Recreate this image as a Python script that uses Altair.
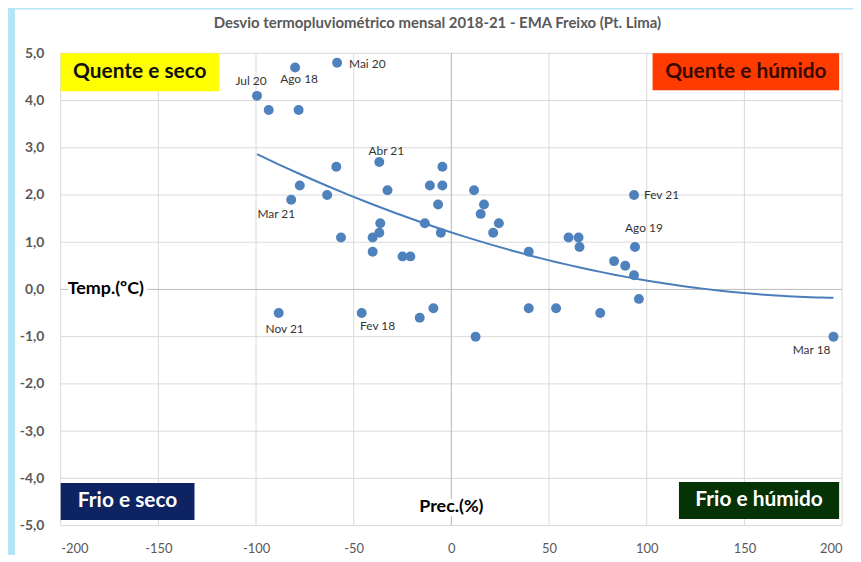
import altair as alt
import pandas as pd

FONT = "Lato"

# ---- data ----
prec = [-99.5, -93.5, -80, -78.2, -58.5, -36.9, -58.9, -77.6, -82, -63.6,
        -32.7, -11, -4.6, -4.6, -6.8, -56.5, -36.4, -36.9, -40.3, -40.3,
        -13.6, -5.4, -25, -21, -88.4, -45.9, -16.2, -9.2, 12.4, 11.6,
        16.7, 15, 24.3, 21.4, 39.6, 39.6, 53.6, 60, 65.1, 65.6,
        83.3, 89, 93.5, 94, 93.5, 96, 76.2, 195.6]
temp = [4.1, 3.8, 4.7, 3.8, 4.8, 2.7, 2.6, 2.2, 1.9, 2.0,
        2.1, 2.2, 2.2, 2.6, 1.8, 1.1, 1.4, 1.2, 1.1, 0.8,
        1.4, 1.2, 0.7, 0.7, -0.5, -0.5, -0.6, -0.4, -1.0, 2.1,
        1.8, 1.6, 1.4, 1.2, 0.8, -0.4, -0.4, 1.1, 1.1, 0.9,
        0.6, 0.5, 0.3, 0.9, 2.0, -0.2, -0.5, -1.0]
labels = ["Jul 20", "", "Ago 18", "", "Mai 20", "Abr 21", "", "", "Mar 21", "",
          "", "", "", "", "", "", "", "", "", "",
          "", "", "", "", "Nov 21", "Fev 18", "", "", "", "",
          "", "", "", "", "", "", "", "", "", "",
          "", "", "", "Ago 19", "Fev 21", "", "", "Mar 18"]

x_ticks = [-200, -150, -100, -50, 0, 50, 100, 150, 200]
y_ticks = [-5, -4, -3, -2, -1, 0, 1, 2, 3, 4, 5]

title_text = "Desvio termopluviométrico mensal 2018-21 - EMA Freixo (Pt. Lima)"
quad_names = ["Quente e seco", "Quente e húmido", "Frio e seco", "Frio e húmido"]
quad_x0 = [-200, 103, -200, 116.5]
quad_x1 = [-119, 198.5, -131.5, 198.5]
quad_y0 = [4.2, 4.22, -4.88, -4.86]
quad_y1 = [5.0, 5.0, -4.1, -4.08]

# ---- styles ----
quad_fill = ["#ffff00", "#ff3b00", "#0e2362", "#063306"]
quad_text = ["#111111", "#3a0800", "#ffffff", "#ffffff"]
label_place = {
    "Jul 20": ("center", -6, -15),
    "Ago 18": ("center", 4, 12),
    "Mai 20": ("left", 12, 1),
    "Abr 21": ("center", 7, -11),
    "Mar 21": ("center", -15, 14),
    "Nov 21": ("center", 6, 16),
    "Fev 18": ("center", 16, 13),
    "Fev 21": ("left", 10, 0),
    "Ago 19": ("center", 9, -19),
    "Mar 18": ("center", -22, 13),
}

W, H = 786, 475
PAD = {"left": 53, "top": 44, "right": 11, "bottom": 28}

df = pd.DataFrame({"prec": prec, "temp": temp, "label": labels})
quads = pd.DataFrame({"name": quad_names, "x0": quad_x0, "x1": quad_x1,
                      "y0": quad_y0, "y1": quad_y1,
                      "fill": quad_fill, "tcol": quad_text})

xscale = alt.Scale(domain=[-200, 200], nice=False, zero=False)
yscale = alt.Scale(domain=[-5, 5], nice=False, zero=False)

x_axis = alt.Axis(values=x_ticks, title=None, grid=False, domain=False, ticks=False,
                  labelFont=FONT, labelFontSize=13, labelColor="#595959",
                  labelPadding=17, zindex=1,
                  labelExpr="replace(format(datum.value, 'd'), '\u2212', '-')")
y_axis = alt.Axis(values=y_ticks, title=None, grid=False, domain=False, ticks=False,
                  labelFont=FONT, labelFontSize=14, labelFontWeight="bold",
                  labelColor="#595959", labelPadding=17, zindex=1,
                  labelExpr="replace(replace(format(datum.value, '.1f'), '.', ','), '\u2212', '-')")


def X(field):
    return alt.X(field, type="quantitative", scale=xscale, axis=x_axis)


def Y(field):
    return alt.Y(field, type="quantitative", scale=yscale, axis=y_axis)


one = pd.DataFrame({"a": [0]})

# white chart panel (page outside it stays light blue)
panel = alt.Chart(one).mark_rect(color="white").encode(
    x=alt.value(-46), x2=alt.value(W + PAD["right"] + 2),
    y=alt.value(-PAD["top"]), y2=alt.value(H + PAD["bottom"] + 2))

title = alt.Chart(one).mark_text(
    text=title_text, font=FONT, fontSize=15, fontWeight="bold", color="#595959",
    align="center", baseline="middle"
).encode(x=alt.value(W / 2 - 14), y=alt.value(-30))

vgrid = alt.Chart(pd.DataFrame({"v": x_ticks})).mark_rule(
    color="#d9d9d9", strokeWidth=1).encode(x=X("v"))
hgrid = alt.Chart(pd.DataFrame({"v": y_ticks})).mark_rule(
    color="#d9d9d9", strokeWidth=1).encode(y=Y("v"))
zero_v = alt.Chart(one).mark_rule(color="#bfbfbf", strokeWidth=1).encode(x=X("a"))
zero_h = alt.Chart(one).mark_rule(color="#bfbfbf", strokeWidth=1).encode(y=Y("a"))

boxes = alt.Chart(quads).mark_rect().encode(
    x=X("x0"), x2="x1", y=Y("y0"), y2="y1",
    color=alt.Color("fill:N", scale=None))
box_text = alt.Chart(quads).transform_calculate(
    xc="(datum.x0 + datum.x1) / 2", yc="(datum.y0 + datum.y1) / 2"
).mark_text(font=FONT, fontSize=21, fontWeight="bold", align="center",
            baseline="middle").encode(
    x=X("xc"), y=Y("yc"), text="name:N",
    color=alt.Color("tcol:N", scale=None))

trend = alt.Chart(df).transform_regression(
    "prec", "temp", method="poly", order=2
).mark_line(color="#4a7ebb", strokeWidth=2).encode(x=X("prec"), y=Y("temp"))

points = alt.Chart(df).mark_circle(size=100, color="#4f81bd", opacity=1).encode(
    x=X("prec"), y=Y("temp"))

label_layers = []
for name, (al, dx, dy) in label_place.items():
    label_layers.append(
        alt.Chart(df).transform_filter(alt.datum.label == name).mark_text(
            font=FONT, fontSize=12, color="#333333", align=al, baseline="middle",
            dx=dx, dy=dy).encode(x=X("prec"), y=Y("temp"), text="label:N"))

temp_halo = alt.Chart(one).mark_text(
    text="Temp.(ºC)", font=FONT, fontSize=18, fontWeight="bold", align="left",
    baseline="middle", dx=7, color="white", stroke="white", strokeWidth=8
).encode(x=alt.value(0), y=alt.datum(0))
temp_lbl = alt.Chart(one).mark_text(
    text="Temp.(ºC)", font=FONT, fontSize=18, fontWeight="bold", align="left",
    baseline="middle", dx=7, color="#000000"
).encode(x=alt.value(0), y=alt.datum(0))
prec_halo = alt.Chart(one).mark_text(
    text="Prec.(%)", font=FONT, fontSize=18, fontWeight="bold", align="center",
    baseline="middle", color="white", stroke="white", strokeWidth=8
).encode(x=alt.datum(0), y=alt.datum(-4.6))
prec_lbl = alt.Chart(one).mark_text(
    text="Prec.(%)", font=FONT, fontSize=18, fontWeight="bold", align="center",
    baseline="middle", color="#000000"
).encode(x=alt.datum(0), y=alt.datum(-4.6))

chart = alt.layer(
    panel, title, vgrid, hgrid, zero_v, zero_h, boxes, box_text, trend, points,
    *label_layers, temp_halo, temp_lbl, prec_halo, prec_lbl
).properties(
    width=W, height=H,
    padding=PAD,
    autosize=alt.AutoSizeParams(type="none"),
).configure(background="#b3e5f6").configure_view(stroke=None)

chart.save("out.html", embed_options={"renderer": "svg", "actions": False})
